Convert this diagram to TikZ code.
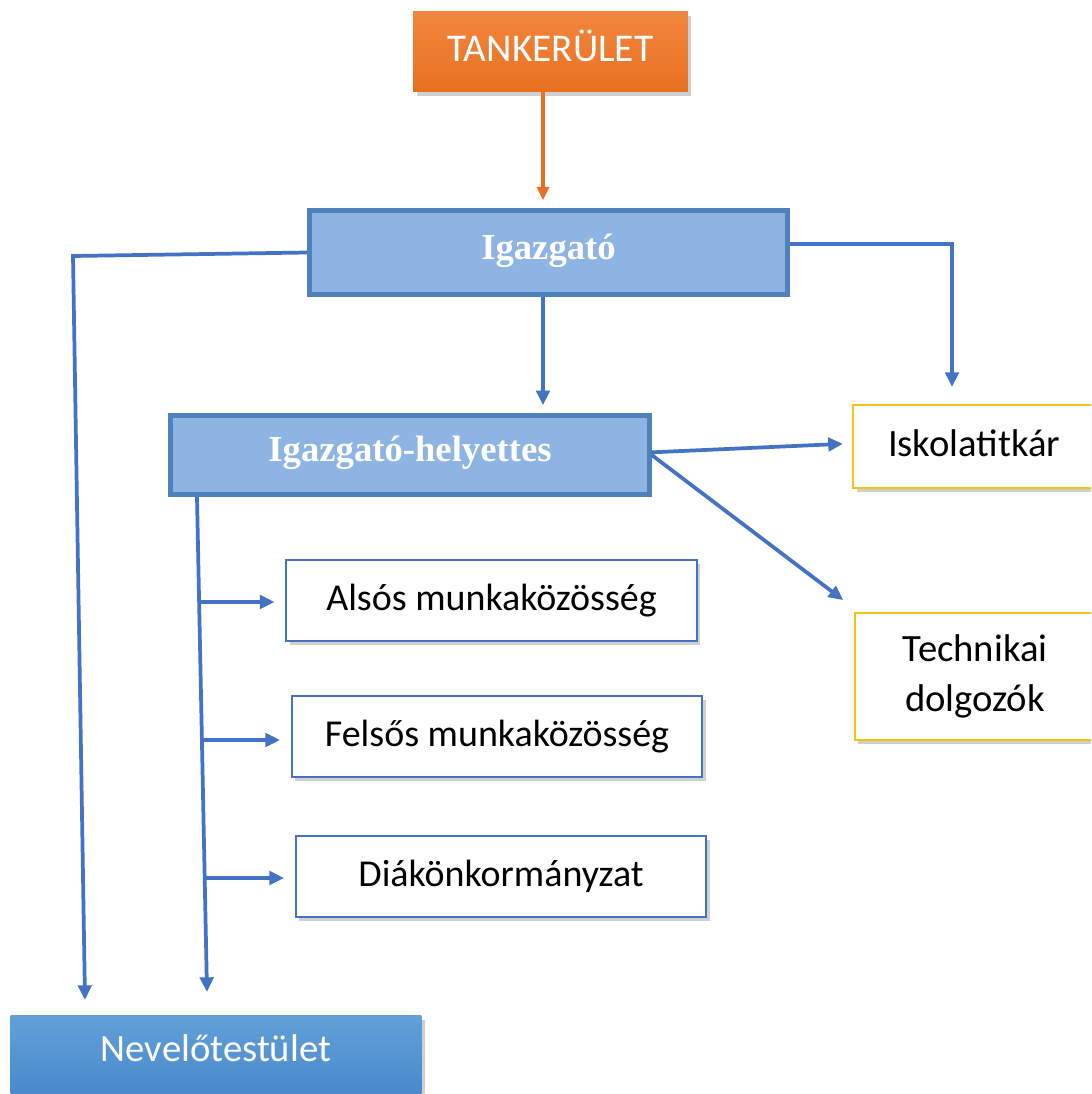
\documentclass[tikz,border=0pt]{standalone}
\usepackage{fontspec}
\setmainfont{Carlito}
\newfontfamily\headfont{Liberation Serif}
\usepackage{xcolor}
\usepackage{tikz}
\usetikzlibrary{positioning, arrows.meta, shadows}
\definecolor{darkorange}{RGB}{232,112,32}
\definecolor{lightorange}{RGB}{242,134,62}
\definecolor{headblue}{RGB}{142,180,227}
\definecolor{headborder}{RGB}{79,129,189}
\definecolor{linkblue}{RGB}{68,114,196}
\definecolor{goldline}{RGB}{242,195,20}
\definecolor{staffblue}{RGB}{97,160,216}
\definecolor{staffdark}{RGB}{72,136,204}

\begin{document}
\begin{tikzpicture}[x=0.75pt, y=-0.75pt,
    % Node styles
    office/.style={drop shadow={shadow xshift=2.5pt, shadow yshift=-3pt, opacity=0.3, fill=black!60}},
    top/.style={office, rectangle, draw=none, top color=lightorange, bottom color=darkorange, text=white, minimum width=206pt, minimum height=60pt, text depth=9pt, font=\fontsize{29.5}{34}\selectfont},
    head/.style={rectangle, draw=headborder, fill=headblue, line width=3.6pt, text=white, text depth=9pt, font=\headfont\bfseries\fontsize{27.5}{32}\selectfont},
    aside/.style={office, rectangle, draw=goldline, fill=white, line width=1.6pt, align=center, font=\fontsize{29}{38}\selectfont},
    group/.style={office, rectangle, draw=linkblue, fill=white, line width=1.4pt, minimum width=308pt, minimum height=61pt, font=\fontsize{28.5}{32}\selectfont},
    staff/.style={office, rectangle, draw=none, top color=staffblue, bottom color=staffdark, text=white, minimum width=308pt, minimum height=62pt, text depth=14pt, font=\fontsize{29}{34}\selectfont},
    % Edge styles
    link/.style={draw=linkblue, line width=2.8pt, -{Triangle[length=11pt, width=10pt]}},
    feed/.style={draw=darkorange, line width=2.4pt, -{Triangle[length=10pt, width=9pt]}}
]
\clip (0,0) rectangle (1091,1094);
\fill[white] (0,0) rectangle (1091,1094);

% Level 0 - district
\node[top] (tank) at (550.5,52) {TANKERÜLET};

% Level 1 - head
\node[head, minimum width=358pt, minimum height=63pt] (igazgato) at (548.5,252.5) {Igazgató};

% Level 2 - deputy
\node[head, minimum width=359pt, minimum height=59pt] (helyettes) at (410,455) {Igazgató-helyettes};

% Level 2 - staff on the right
\node[aside, minimum width=181pt, minimum height=62pt, text depth=5pt] (titkar) at (974,446.5) {Iskolatitkár};
\node[aside, minimum width=180pt, minimum height=95pt] (technikai) at (975,676.5) {Technikai\\dolgozók};

% Level 3 - working groups
\node[group] (also) at (491.5,600.5) {Alsós munkaközösség};
\node[group] (felso) at (497,736.5) {Felsős munkaközösség};
\node[group] (diak) at (501,876.5) {Diákönkormányzat};

% Level 4 - teaching staff
\node[staff] (nevelo) at (216,1057) {Nevelőtestület};

% Bends and free ends
\coordinate (ttop) at (543,92);
\coordinate (lcorner) at (73,256);
\coordinate (ltip) at (85,1000);
\coordinate (rcorner) at (952,244);
\coordinate (rtip) at (952,387);
\coordinate (vtop) at (197,497);
\coordinate (vtip) at (207,992);
\coordinate (b1) at (200,602);
\coordinate (b2) at (203,740);
\coordinate (b3) at (205,878);

% Draw all edges
\draw[feed] (ttop) -- ([yshift=6pt]igazgato.north -| ttop);

\draw[link] (igazgato.west) -- (lcorner) -- (ltip);
\draw[link] (igazgato.east |- rcorner) -- (rcorner) -- (rtip);
\draw[link] (igazgato.south -| ttop) -- ([yshift=6pt]helyettes.north -| ttop);

\draw[link] ([yshift=2pt]helyettes.east) -- ([xshift=-7pt,yshift=2pt]titkar.west);
\draw[link] (helyettes.east) -- ([xshift=-8pt,yshift=9pt]technikai.north west);

\draw[link] (vtop) -- (vtip);
\draw[link] (b1) -- ([xshift=-8pt]also.west |- b1);
\draw[link] (b2) -- ([xshift=-8pt]felso.west |- b2);
\draw[link] (b3) -- ([xshift=-8pt]diak.west |- b3);

\end{tikzpicture}
\end{document}
